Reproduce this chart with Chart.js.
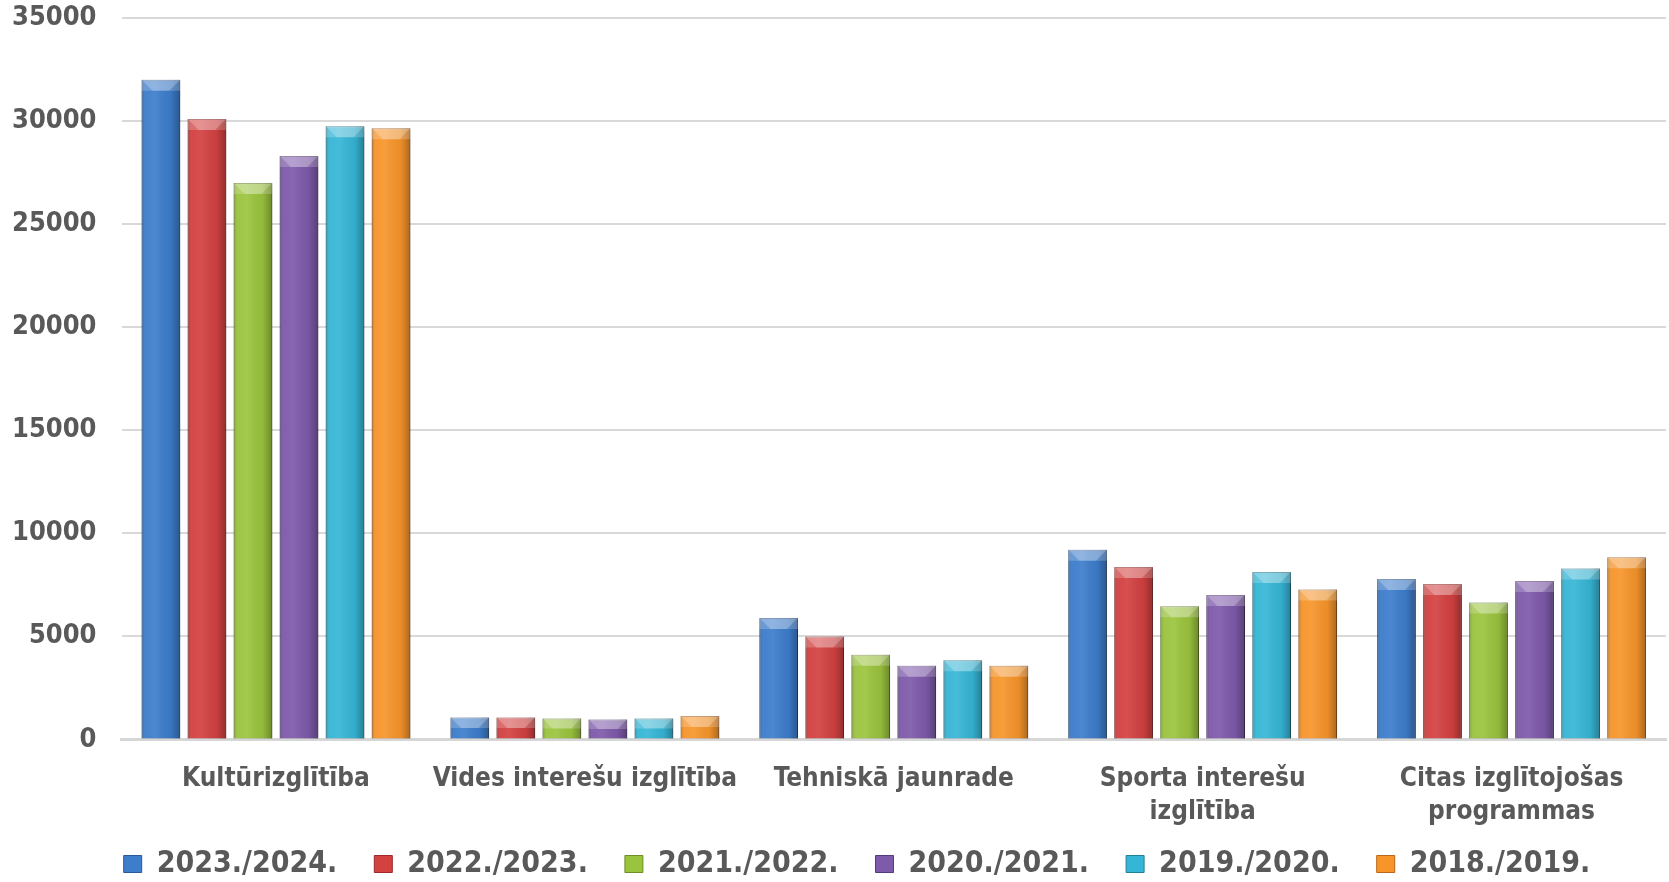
<!DOCTYPE html>
<html><head><meta charset="utf-8">
<script src="https://cdn.jsdelivr.net/npm/chart.js@4"></script>
<style>html,body{margin:0;padding:0;background:#fff}#wrap{width:1669px;height:882px}</style>
</head><body><div id="wrap"><canvas id="c" width="1669" height="882"></canvas></div>
<script>
const categories = [
  'Kultūrizglītība',
  'Vides interešu izglītība',
  'Tehniskā jaunrade',
  ['Sporta interešu', 'izglītība'],
  ['Citas izglītojošas', 'programmas']
];
const seriesLabels = ['2023./2024.', '2022./2023.', '2021./2022.', '2020./2021.', '2019./2020.', '2018./2019.'];
const v2023_2024 = [32000, 1070, 5900, 9200, 7780];
const v2022_2023 = [30100, 1070, 5000, 8370, 7540];
const v2021_2022 = [27000, 1020, 4110, 6460, 6650];
const v2020_2021 = [28300, 970, 3580, 7010, 7690];
const v2019_2020 = [29750, 1020, 3840, 8120, 8300];
const v2018_2019 = [29650, 1140, 3580, 7280, 8840];
const seriesValues = [v2023_2024, v2022_2023, v2021_2022, v2020_2021, v2019_2020, v2018_2019];
const seriesColors = ['#3d7dcc', '#d34141', '#9bc43e', '#7e5aab', '#36b6d6', '#f7952b'];
const seriesBorders = ['#2a5a95', '#9a2b2b', '#6d8d26', '#56397c', '#237f98', '#b8661a'];
const yMin = 0, yMax = 35000, yStep = 5000;

const FONT = "'DejaVu Sans Condensed', 'DejaVu Sans', sans-serif";
const TXT = '#595959';

const bevelPlugin = {
  id: 'bevel',
  beforeDatasetsDraw(chart) {
    const ctx = chart.ctx;
    ctx.save();
    ctx.shadowColor = 'rgba(0,0,0,0.28)';
    ctx.shadowBlur = 6;
    ctx.shadowOffsetX = 2;
    ctx.shadowOffsetY = 1;
  },
  afterDatasetsDraw(chart) {
    const ctx = chart.ctx;
    ctx.restore();
    chart.data.datasets.forEach((ds, di) => {
      const meta = chart.getDatasetMeta(di);
      meta.data.forEach(bar => {
        const p = bar.getProps(['x', 'y', 'base', 'width'], true);
        const x0 = p.x - p.width / 2, x1 = p.x + p.width / 2;
        const h = p.base - p.y;
        if (h <= 0) return;
        const g = ctx.createLinearGradient(x0, 0, x1, 0);
        g.addColorStop(0, 'rgba(0,0,0,0.22)');
        g.addColorStop(0.12, 'rgba(255,255,255,0.04)');
        g.addColorStop(0.35, 'rgba(255,255,255,0.08)');
        g.addColorStop(0.75, 'rgba(0,0,0,0.05)');
        g.addColorStop(1, 'rgba(0,0,0,0.30)');
        ctx.fillStyle = g;
        ctx.fillRect(x0, p.y, p.width, h);
        const bv = Math.min(11, h / 2);
        ctx.beginPath();
        ctx.moveTo(x0, p.y); ctx.lineTo(x1, p.y);
        ctx.lineTo(x1 - bv, p.y + bv); ctx.lineTo(x0 + bv, p.y + bv);
        ctx.closePath();
        ctx.fillStyle = 'rgba(255,255,255,0.38)';
        ctx.fill();
        ctx.beginPath();
        ctx.moveTo(x0, p.y); ctx.lineTo(x0 + bv, p.y + bv); ctx.lineTo(x0, p.y + bv); ctx.closePath();
        ctx.moveTo(x1, p.y); ctx.lineTo(x1 - bv, p.y + bv); ctx.lineTo(x1, p.y + bv); ctx.closePath();
        ctx.fillStyle = 'rgba(255,255,255,0.2)';
        ctx.fill();
      });
    });
  }
};

const legendShift = {
  id: 'legendShift',
  afterLayout(chart) {
    if (chart.legend) { chart.legend.left += 18; chart.legend.right += 18; }
  }
};

new Chart(document.getElementById('c'), {
  type: 'bar',
  data: {
    labels: categories,
    datasets: seriesLabels.map((lbl, i) => ({
      label: lbl,
      data: seriesValues[i],
      backgroundColor: seriesColors[i],
      borderColor: seriesBorders[i],
      borderWidth: 1,
      categoryPercentage: 0.894,
      barPercentage: 0.84
    }))
  },
  options: {
    responsive: false,
    animation: false,
    devicePixelRatio: 1,
    layout: { padding: { left: 12, right: 3, top: 0, bottom: -7 } },
    plugins: {
      tooltip: { enabled: false },
      legend: {
        position: 'bottom',
        labels: {
          font: { family: FONT, size: 30, weight: 'bold' },
          color: TXT,
          boxWidth: 18,
          boxHeight: 17,
          padding: 37
        }
      }
    },
    scales: {
      x: {
        grid: { display: false },
        border: { display: true, color: '#d6d6d6', width: 3 },
        ticks: {
          font: { family: FONT, size: 26, weight: 'bold', lineHeight: 1.27 },
          color: TXT,
          padding: 15,
          maxRotation: 0,
          autoSkip: false
        },
        afterFit(scale) {
          scale.height = 72.5;
          scale._computeLabelArea = () => undefined;
        }
      },
      y: {
        min: yMin, max: yMax,
        ticks: {
          stepSize: yStep,
          font: { family: FONT, size: 27, weight: 'bold' },
          color: TXT,
          padding: 25,
          callback: (v) => String(v)
        },
        grid: { color: '#d9d9d9', lineWidth: 2, drawTicks: false },
        border: { display: false },
        afterFit(scale) {
          scale.paddingTop = 18;
          scale.paddingBottom = 0;
          scale.width -= 25;
        }
      }
    }
  },
  plugins: [bevelPlugin, legendShift]
});
</script>
</body></html>
